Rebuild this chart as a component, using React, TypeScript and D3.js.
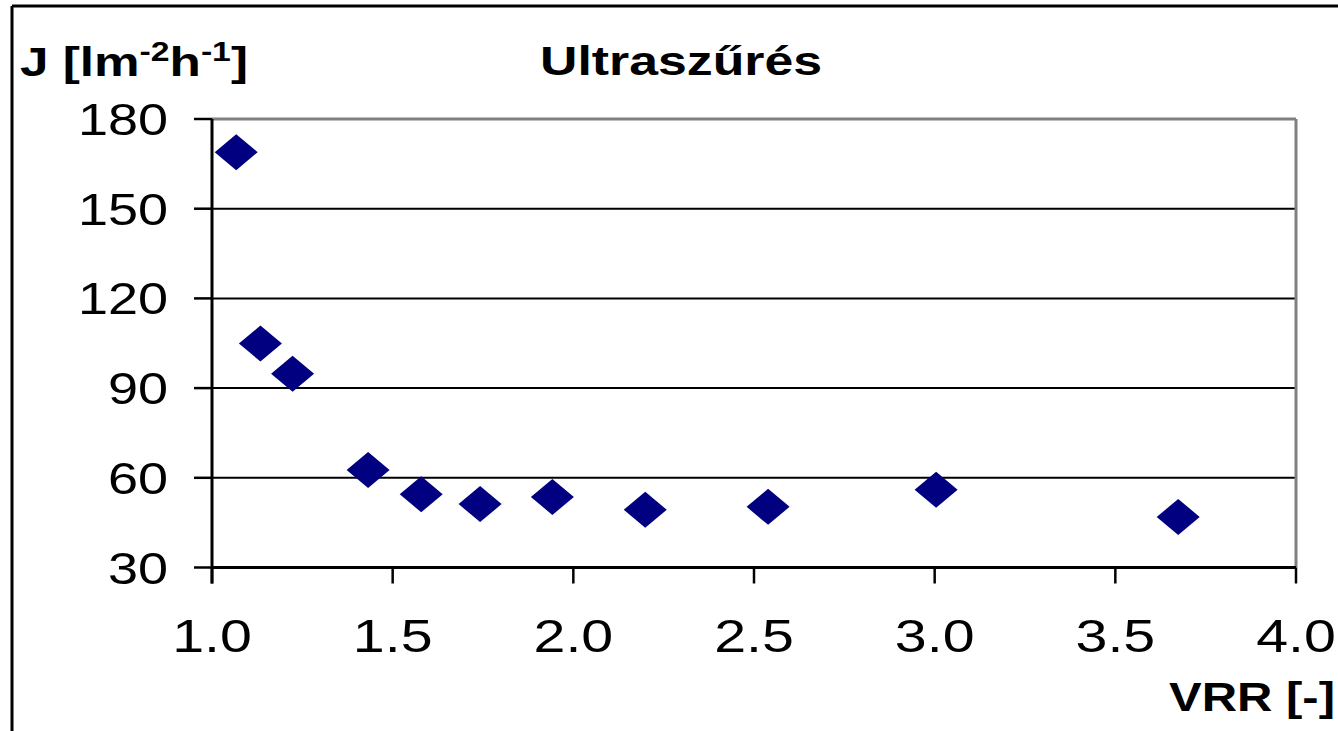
import React from "react";
import * as d3 from "d3";

const vrr = [1.067, 1.134, 1.223, 1.432, 1.579, 1.742, 1.942, 2.199, 2.539, 3.004, 3.674];
const flux = [168.9, 104.9, 94.8, 62.6, 54.5, 51.2, 53.6, 49.3, 50.3, 56.0, 46.9];
const yTicks = [30, 60, 90, 120, 150, 180];
const xTicks = [1.0, 1.5, 2.0, 2.5, 3.0, 3.5, 4.0];
const titleText = "Ultraszűrés";
const xLabel = "VRR [-]";

const W = 1338;
const H = 731;
const FONT = "'Liberation Sans', Arial, sans-serif";

export default function App() {
  const x = d3.scaleLinear().domain([1, 4]).range([212, 1296]);
  const y = d3.scaleLinear().domain([30, 180]).range([567.5, 119]);
  const diamond = d3.symbol().type(d3.symbolSquare).size(1)();
  const mw = 43, mh = 36;

  return (
    <svg width={W} height={H} style={{ position: "absolute", left: 0, top: 0, background: "#fff" }}>
      {/* outer chart border */}
      <line x1={12} y1={6} x2={12} y2={H} stroke="#000" strokeWidth={3} />
      <line x1={12} y1={6} x2={W} y2={6} stroke="#000" strokeWidth={3} />

      {/* gridlines */}
      {yTicks.filter((t) => t !== 30 && t !== 180).map((t) => (
        <line key={"g" + t} x1={x(1)} x2={x(4)} y1={y(t)} y2={y(t)} stroke="#000" strokeWidth={2} />
      ))}
      {/* plot frame top/right */}
      <line x1={x(1)} x2={x(4)} y1={y(180)} y2={y(180)} stroke="#808080" strokeWidth={3} />
      <line x1={x(4)} x2={x(4)} y1={y(180)} y2={y(30)} stroke="#808080" strokeWidth={3} />

      {/* axes */}
      <line x1={x(1)} x2={x(1)} y1={y(180)} y2={y(30) + 16} stroke="#000" strokeWidth={3} />
      <line x1={x(1)} x2={x(4)} y1={y(30)} y2={y(30)} stroke="#000" strokeWidth={3} />
      {yTicks.map((t) => (
        <line key={"yt" + t} x1={x(1) - 18} x2={x(1)} y1={y(t)} y2={y(t)} stroke="#000" strokeWidth={2.5} />
      ))}
      {xTicks.map((t) => (
        <line key={"xt" + t} x1={x(t)} x2={x(t)} y1={y(30)} y2={y(30) + 16} stroke="#000" strokeWidth={2.5} />
      ))}

      {/* tick labels */}
      {yTicks.map((t) => (
        <text
          key={"yl" + t}
          transform={`translate(${168},${y(t) + 16}) scale(1.2,1)`}
          textAnchor="end"
          fontFamily={FONT}
          fontSize={45}
          fill="#000"
        >
          {String(t)}
        </text>
      ))}
      {xTicks.map((t) => (
        <text
          key={"xl" + t}
          transform={`translate(${x(t)},${652}) scale(1.22,1)`}
          textAnchor="middle"
          fontFamily={FONT}
          fontSize={47}
          fill="#000"
        >
          {d3.format(".1f")(t)}
        </text>
      ))}

      {/* markers */}
      {vrr.map((v, i) => (
        <path
          key={"m" + i}
          d={diamond}
          transform={`translate(${x(v)},${y(flux[i])}) scale(${mw / Math.SQRT2},${mh / Math.SQRT2}) rotate(45)`}
          fill="#000080"
        />
      ))}

      {/* labels */}
      <text transform={`translate(20,76) scale(1.25,1)`} fontFamily={FONT} fontWeight="bold" fontSize={41} fill="#000">
        J [lm
        <tspan dy={-15} fontSize={27}>-2</tspan>
        <tspan dy={15}>h</tspan>
        <tspan dy={-15} fontSize={27}>-1</tspan>
        <tspan dy={15}>]</tspan>
      </text>
      <text
        x={540}
        y={75}
        fontFamily={FONT}
        fontWeight="bold"
        fontSize={40}
        fill="#000"
        textLength={282}
        lengthAdjust="spacingAndGlyphs"
      >
        {titleText}
      </text>
      <text
        x={1169}
        y={711}
        fontFamily={FONT}
        fontWeight="bold"
        fontSize={40}
        fill="#000"
        textLength={166}
        lengthAdjust="spacingAndGlyphs"
      >
        {xLabel}
      </text>
    </svg>
  );
}
